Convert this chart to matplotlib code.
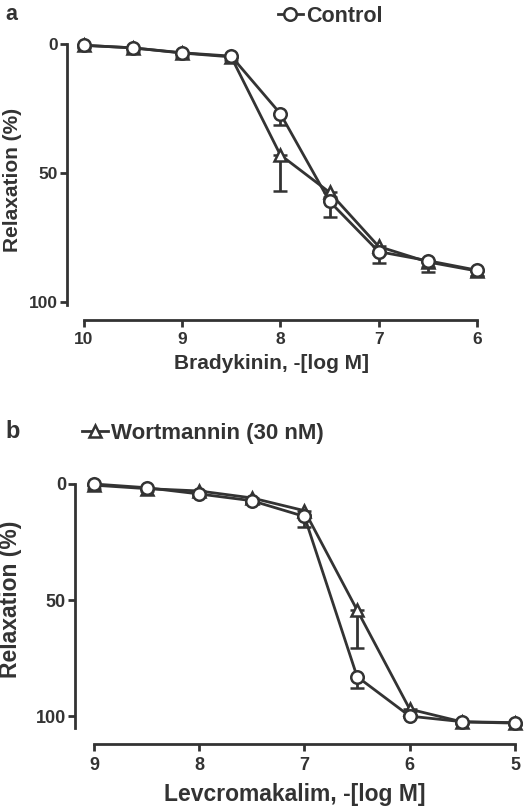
import numpy as np
import matplotlib
matplotlib.use("Agg")
import matplotlib.pyplot as plt

plt.rcParams["font.family"] = ["Liberation Sans", "DejaVu Sans"]
plt.rcParams["font.weight"] = "bold"

INK = "#333333"

# panel a: bradykinin
brady_x = [10, 9.5, 9, 8.5, 8, 7.5, 7, 6.5, 6]
ctrl_a = [0.5, 1.5, 3.4, 4.7, 27, 61, 80.5, 84, 87.7]
ctrl_a_err = [0.5, 0.5, 0.5, 0.5, 4.5, 6, 4.5, 4.5, 2.3]
wort_a = [0.5, 1.5, 3.5, 5, 43, 57.5, 78.5, 84.5, 88]
wort_a_err = [1.2, 1.5, 1.5, 1.2, 14, 2, 3, 2, 2]

# panel b: levcromakalim
levcro_x = [9, 8.5, 8, 7.5, 7, 6.5, 6, 5.5, 5]
ctrl_b = [0, 1.6, 4.3, 7.2, 14, 83, 100, 102.4, 102.8]
ctrl_b_err = [0.5, 0.5, 0.5, 1, 4.4, 4.8, 0.5, 0.5, 0.5]
wort_b = [0.5, 2, 3, 6, 11.5, 54.3, 97, 102.5, 103]
wort_b_err = [1.5, 1, 1, 2, 2, 16.2, 1, 1, 1]

W, H = 524, 806
fig = plt.figure(figsize=(W/100, H/100), dpi=100)

def px_axes(l, t, r, b):
    return fig.add_axes([l/W, 1 - b/H, (r - l)/W, (b - t)/H])

def series(ax, x, y, err, marker, z):
    y = np.asarray(y); err = np.asarray(err)
    eb = ax.errorbar(x, y, yerr=[np.zeros_like(err), err], color=INK, lw=2,
                     marker=marker, ms=9, mfc="white", mec=INK, mew=1.8,
                     capsize=5, capthick=2, elinewidth=2, zorder=z, clip_on=False)
    for art in eb.get_children():
        art.set_clip_on(False)
    return eb[0]

def style(ax, xlim, ylim, xticks, ybound, xlabel, fs_tick, fs_lab, xpad):
    ax.set_xlim(*xlim); ax.set_ylim(*ylim)
    ax.set_xticks(xticks)
    ax.set_xticklabels([str(t) for t in xticks])
    ax.set_yticks([0, 50, 100])
    for s in ["top", "right"]:
        ax.spines[s].set_visible(False)
    for s in ["left", "bottom"]:
        ax.spines[s].set_linewidth(2); ax.spines[s].set_color(INK)
    ax.spines["bottom"].set_bounds(xticks[0], xticks[-1])
    ax.spines["left"].set_bounds(0, ybound)
    ax.tick_params(axis="y", length=5, width=2, color=INK, pad=1.5,
                   labelsize=fs_tick, labelcolor=INK)
    ax.tick_params(axis="x", length=5, width=2, color=INK, pad=4,
                   labelsize=fs_tick, labelcolor=INK)
    for lab in ax.get_xticklabels() + ax.get_yticklabels():
        lab.set_fontweight("bold")
    ax.set_xlabel(xlabel, fontsize=fs_lab, fontweight="bold", color=INK, labelpad=xpad)
    ax.set_ylabel("Relaxation (%)", fontsize=fs_lab, fontweight="bold", color=INK)

# panel a
axa = px_axes(67, 40, 477, 320)
wa = series(axa, brady_x, wort_a, wort_a_err, "^", 3)
ca = series(axa, brady_x, ctrl_a, ctrl_a_err, "o", 4)
style(axa, (10.17, 6), (107, -1.55), [10, 9, 8, 7, 6], 101,
      "Bradykinin, -[log M]", 12.5, 15, 5)
axa.yaxis.set_label_coords((22 - 67)/410, 0.5)
axa.legend([ca], ["Control"], loc="center left", frameon=False,
           bbox_to_anchor=(278/W, 1 - 16/H), bbox_transform=fig.transFigure,
           borderpad=0, borderaxespad=0, handlelength=1.15, handletextpad=0.15,
           numpoints=1, prop=dict(size=15.5, weight="bold"), labelcolor=INK)

# panel b
axb = px_axes(75, 480, 515, 744)
wb = series(axb, levcro_x, wort_b, wort_b_err, "^", 3)
cb = series(axb, levcro_x, ctrl_b, ctrl_b_err, "o", 4)
style(axb, (9.18, 5), (112, -1.72), [9, 8, 7, 6, 5], 105,
      "Levcromakalim, -[log M]", 13, 16.5, 7)
axb.yaxis.set_label_coords((22 - 75)/440, (744 - 599)/264)
axb.legend([wb], ["Wortmannin (30 nM)"], loc="center left", frameon=False,
           bbox_to_anchor=(82/W, 1 - 433/H), bbox_transform=fig.transFigure,
           borderpad=0, borderaxespad=0, handlelength=1.15, handletextpad=0.15,
           numpoints=1, prop=dict(size=16, weight="bold"), labelcolor=INK)

fig.text(5/W, 1 - 20/H, "a", fontsize=15.5, fontweight="bold", color=INK, va="baseline")
fig.text(5/W, 1 - 438/H, "b", fontsize=17, fontweight="bold", color=INK, va="baseline")

fig.savefig("out.png", dpi=100)
